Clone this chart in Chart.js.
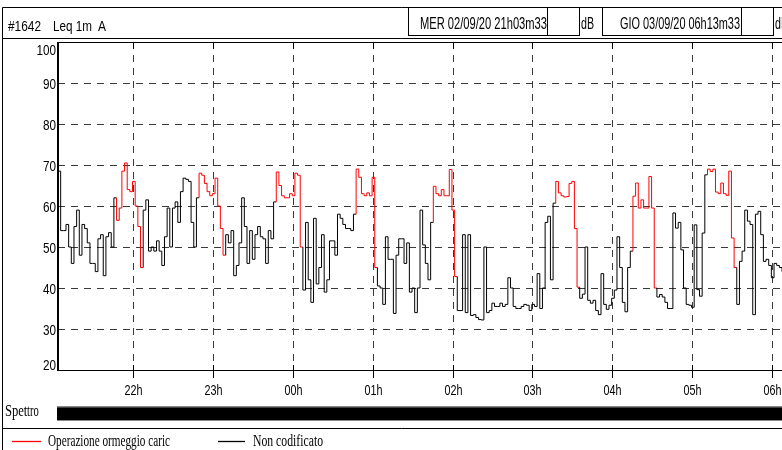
<!DOCTYPE html>
<html><head><meta charset="utf-8">
<script src="https://cdn.jsdelivr.net/npm/chart.js@4"></script>
<style>
html,body{margin:0;padding:0;background:#fff;overflow:hidden;width:782px;height:450px}
#wrap{position:relative;width:800px;height:450px}
</style>
</head><body><div id="wrap"><canvas id="c" width="800" height="450"></canvas></div>
<script>
// ---- header texts ----
const measureId = '#1642';
const measureParam = 'Leq 1m';
const weighting = 'A';
const startLabel = 'MER 02/09/20 21h03m33';
const endLabel = 'GIO 03/09/20 06h13m33';
const unitLabel = 'dB';
const spectrumLabel = ['Spet', 'tro'];
const seriesNames = ['Operazione ormeggio caric', 'Non codificato'];

// ---- axes ----
const startMinuteOfDay = 21 * 60 + 3 + 33 / 60;   // 21h03m33
const durationMin = 550;                           // to 06h13m33
const hourLabels = ['22h', '23h', '00h', '01h', '02h', '03h', '04h', '05h', '06h'];
const yTickLabels = ['20', '30', '40', '50', '60', '70', '80', '90', '100'];

// ---- data: Leq (dB) sampled every 2 minutes from start ----
const sampleStepMin = 2;
const leqValues = [
  68.5, 68.5, 54, 54, 55.5, 50, 46, 55, 59, 48,
  55.5, 54.5, 51, 46, 46, 44, 52, 53, 43, 52.5,
  53.5, 50, 62, 56.5, 59.5, 68.5, 70.5, 64, 63.5, 66,
  60, 55, 45, 59, 61.5, 49, 50, 49, 51.5, 49,
  45.5, 52.5, 59.5, 50, 59.5, 61, 56, 63.5, 66.8, 66.5,
  66, 56, 50, 62, 68, 67.5, 65.5, 63.5, 62.5, 63,
  66.8, 60, 54.5, 48, 53, 51, 54, 43, 45.5, 51,
  62, 55, 46, 54, 47, 53, 55, 52.5, 52, 46,
  54, 52, 61, 68.3, 65, 62.5, 62, 62, 63, 62.5,
  68, 67.5, 50, 39.5, 56, 42, 36.5, 57, 41, 45,
  53, 39, 42, 51.5, 51.5, 48, 58, 57, 55.5, 54.5,
  54.5, 54, 58, 69, 67, 63, 62.5, 63.2, 62.5, 67,
  45, 40.5, 40, 36, 52.5, 47, 47, 33.8, 48, 52,
  52, 46, 51, 39, 40, 34, 40, 59, 50.5, 46,
  42, 56, 64.8, 63, 62.5, 64, 62.5, 62.5, 68.9, 59,
  42.8, 34.5, 34.5, 53, 34, 53, 33.3, 33.5, 32.8, 32.3,
  32.2, 50, 34, 34.5, 36.3, 35.5, 35.5, 36.3, 35.5, 36,
  42.5, 40, 35.5, 35, 35, 35.5, 36, 35.8, 34.5, 36,
  35.5, 43.5, 35, 40, 56, 57.5, 42, 60.7, 66, 63.2,
  62.5, 62.2, 62.3, 65.5, 66, 54.5, 40.2, 37.5, 38.5, 50,
  37, 36.3, 37, 34.5, 33.5, 43.5, 36, 34.8, 35.8, 37.5,
  39.5, 52.5, 45, 36.5, 34.2, 45, 49, 62.4, 65.6, 59.5,
  61.5, 59.5, 59.5, 67.2, 59.5, 40, 37.8, 38.4, 37.8, 36.5,
  35, 35, 58.3, 54.6, 56, 49.3, 40, 36, 35.8, 35.3,
  55.4, 39.6, 38, 53.4, 67.6, 69, 68.4, 69, 63.4, 63,
  65.6, 63, 62.6, 68.5, 52.2, 45, 36, 46.5, 49, 59,
  56.3, 55.5, 33.5, 58, 58.7, 53, 46.5, 47, 45.5, 42.5,
  46, 45.5, 45, 44, 45, 45
];
// minutes from start coded "Operazione ormeggio caric" (others: "Non codificato")
const operazioneRanges = [[44, 62], [106, 124], [164, 182], [224, 238], [282, 298], [374, 390], [432, 448], [488, 508]];

const RED = '#ff0000', BLACK = '#000000';
const SANS = '"Liberation Sans", Arial, sans-serif';
const SERIF = '"Liberation Serif", "Times New Roman", serif';

const points = leqValues.map((v, i) => ({ x: i * sampleStepMin, y: v }));
const hourMinutes = hourLabels.map((_, i) => (22 * 60 - startMinuteOfDay) + 60 * i);
const isOperazione = m => operazioneRanges.some(r => m >= r[0] && m <= r[1]);

function fitText(ctx, text, x, y, w, font, align) {
  ctx.save();
  ctx.font = font; ctx.textBaseline = 'alphabetic'; ctx.textAlign = 'left';
  const m = ctx.measureText(text).width;
  const sx = w / m;
  let x0 = x;
  if (align === 'center') x0 = x - w / 2; else if (align === 'right') x0 = x - w;
  ctx.translate(x0, y); ctx.scale(sx, 1); ctx.fillText(text, 0, 0);
  ctx.restore();
}
function scaledText(ctx, text, x, y, sx, font, align) {
  ctx.save(); ctx.font = font; ctx.textBaseline = 'alphabetic'; ctx.textAlign = 'left';
  const w = ctx.measureText(text).width * sx;
  fitText(ctx, text, x, y, w, font, align);
  ctx.restore();
}
function hline(ctx, x1, x2, y) { ctx.beginPath(); ctx.moveTo(x1, y); ctx.lineTo(x2, y); ctx.stroke(); }
function vline(ctx, x, y1, y2) { ctx.beginPath(); ctx.moveTo(x, y1); ctx.lineTo(x, y2); ctx.stroke(); }

const framePlugin = {
  id: 'frame',
  beforeDraw(chart) {
    const ctx = chart.ctx;
    ctx.save();
    ctx.fillStyle = '#fff'; ctx.fillRect(0, 0, chart.width, chart.height);
    ctx.strokeStyle = '#000'; ctx.lineWidth = 1; ctx.fillStyle = '#000';
    hline(ctx, 2.5, 800, 7.5);
    vline(ctx, 2.5, 7.5, 450);
    hline(ctx, 2.5, 800, 38.5);
    ctx.strokeRect(408.5, 7.5, 139, 28);
    ctx.strokeRect(547.5, 7.5, 32, 28);
    ctx.strokeRect(602.5, 7.5, 139, 28);
    ctx.strokeRect(741.5, 7.5, 32, 28);
    fitText(ctx, measureId, 8, 30.5, 33, '15px ' + SANS);
    fitText(ctx, measureParam, 53, 30.5, 39, '15px ' + SANS);
    fitText(ctx, weighting, 98, 30.5, 8, '15px ' + SANS);
    fitText(ctx, startLabel, 420, 28.5, 127, '16px ' + SANS);
    fitText(ctx, endLabel, 620, 28.5, 120, '16px ' + SANS);
    fitText(ctx, unitLabel, 581, 28.5, 13, '16px ' + SANS);
    fitText(ctx, unitLabel, 775, 28.5, 13, '16px ' + SANS);
    ctx.restore();
  },
  beforeDatasetsDraw(chart) {
    const ctx = chart.ctx, a = chart.chartArea;
    const xs = chart.scales.x, ys = chart.scales.y;
    ctx.save();
    ctx.strokeStyle = '#3a3a3a'; ctx.lineWidth = 1; ctx.setLineDash([7, 6]);
    yTickLabels.forEach(l => {
      const v = +l; if (v <= 20 || v >= 100) return;
      const y = Math.round(ys.getPixelForValue(v)) + 0.5;
      hline(ctx, a.left, 800, y);
    });
    hourMinutes.forEach(m => {
      const x = Math.round(xs.getPixelForValue(m)) + 0.5;
      vline(ctx, x, a.top, a.bottom);
    });
    ctx.restore();
  },
  afterDraw(chart) {
    const ctx = chart.ctx, a = chart.chartArea;
    const xs = chart.scales.x, ys = chart.scales.y;
    ctx.save();
    ctx.strokeStyle = '#000'; ctx.fillStyle = '#000'; ctx.lineWidth = 1;
    hline(ctx, a.left, 800, Math.round(a.top) + 0.5);
    hline(ctx, a.left, 800, Math.round(a.bottom) + 0.5);
    ctx.fillRect(a.left - 1, a.top, 2, a.bottom - a.top + 1);
    // hour ticks + labels
    hourMinutes.forEach((m, i) => {
      const x = Math.round(xs.getPixelForValue(m)) + 0.5;
      vline(ctx, x, a.bottom - 5, a.bottom + 8);
      vline(ctx, x, a.top, a.top + 7);
      scaledText(ctx, hourLabels[i], x, 395, 0.72, '15px ' + SANS, 'center');
    });
    // y labels
    yTickLabels.forEach(l => {
      const v = +l;
      const y = ys.getPixelForValue(v);
      let base = y + 5.5;
      if (v === 100) base = y + 13;
      if (v === 20) base = y;
      scaledText(ctx, l, 56, base, 0.78, '15px ' + SANS, 'right');
    });
    // spectrum bar
    scaledText(ctx, spectrumLabel[0], 5, 416, 0.74, '17px ' + SERIF);
    scaledText(ctx, spectrumLabel[1], 27, 416, 0.62, '17px ' + SERIF);
    ctx.fillStyle = '#888'; ctx.fillRect(57, 406, 743, 15);
    ctx.fillStyle = '#000'; ctx.fillRect(57, 407.5, 743, 12.5);
    hline(ctx, 2.5, 800, 428.5);
    // legend
    ctx.lineWidth = 1.3;
    ctx.strokeStyle = RED; hline(ctx, 12, 41, 441.5);
    ctx.strokeStyle = BLACK; hline(ctx, 218, 245, 441.5);
    ctx.fillStyle = '#000';
    fitText(ctx, seriesNames[0], 48, 446, 122, '17px ' + SERIF);
    fitText(ctx, seriesNames[1], 253, 446, 70, '17px ' + SERIF);
    ctx.restore();
  }
};

new Chart(document.getElementById('c'), {
  type: 'line',
  data: {
    datasets: [{
      label: seriesNames[1],
      data: points,
      borderColor: BLACK,
      borderWidth: 1,
      pointRadius: 0,
      stepped: 'after',
      tension: 0,
      fill: false,
      segment: { borderColor: c => isOperazione(c.p0.parsed.x) ? RED : undefined }
    }]
  },
  options: {
    responsive: false,
    animation: false,
    devicePixelRatio: 1,
    layout: { padding: { left: 58, top: 42, right: 10, bottom: 80 } },
    plugins: { legend: { display: false }, tooltip: { enabled: false } },
    scales: {
      x: { type: 'linear', min: 0, max: durationMin, display: false },
      y: { type: 'linear', min: 20, max: 100, display: false }
    }
  },
  plugins: [framePlugin]
});
</script>
</body></html>
